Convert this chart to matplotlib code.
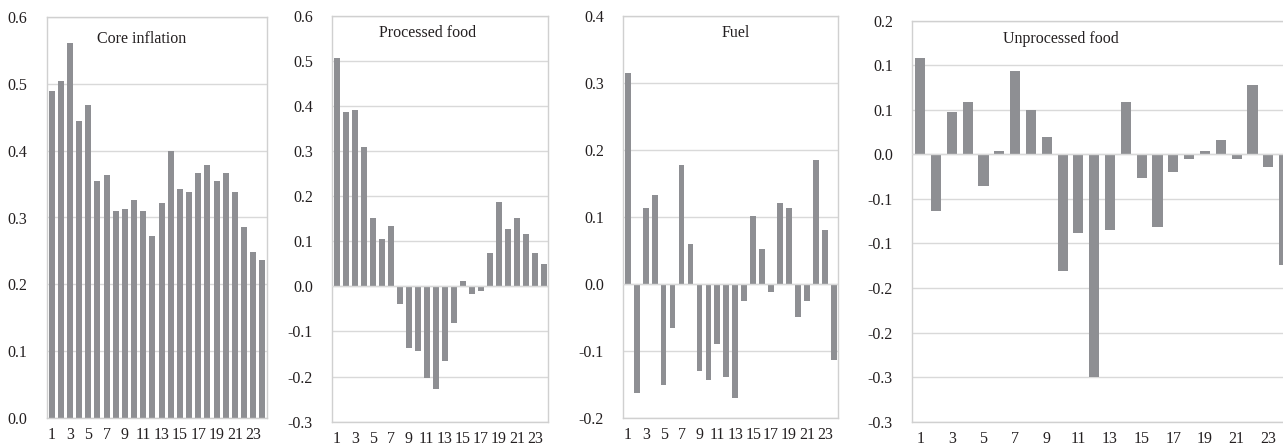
import matplotlib
matplotlib.use("Agg")
import matplotlib.pyplot as plt
import numpy as np

# ---------------- data ----------------
periods = list(range(1, 25))
xtick_labels = ["1", "3", "5", "7", "9", "11", "13", "15", "17", "19", "21", "23"]

core_inflation = [0.489, 0.504, 0.561, 0.444, 0.468, 0.354, 0.363, 0.310, 0.313, 0.326,
                  0.310, 0.273, 0.322, 0.399, 0.342, 0.338, 0.367, 0.379, 0.354, 0.367,
                  0.338, 0.286, 0.249, 0.237]
processed_food = [0.507, 0.386, 0.392, 0.309, 0.152, 0.104, 0.134, -0.040, -0.137, -0.143,
                  -0.203, -0.227, -0.166, -0.082, 0.013, -0.016, -0.010, 0.073, 0.188, 0.127,
                  0.152, 0.115, 0.073, 0.049]
fuel = [0.315, -0.163, 0.113, 0.133, -0.151, -0.066, 0.178, 0.060, -0.130, -0.143,
        -0.089, -0.138, -0.170, -0.025, 0.101, 0.052, -0.012, 0.121, 0.113, -0.049,
        -0.025, 0.185, 0.080, -0.113]
unprocessed_food = [0.108, -0.064, 0.047, 0.059, -0.036, 0.004, 0.093, 0.050, 0.020, -0.131,
                    -0.088, -0.250, -0.085, 0.059, -0.026, -0.082, -0.020, -0.005, 0.004, 0.016,
                    -0.005, 0.078, -0.014, -0.124]

titles = ["Core inflation", "Processed food", "Fuel", "Unprocessed food"]

yticks_core = [0.0, 0.1, 0.2, 0.3, 0.4, 0.5, 0.6]
yticks_proc = [-0.3, -0.2, -0.1, 0.0, 0.1, 0.2, 0.3, 0.4, 0.5, 0.6]
yticks_fuel = [-0.2, -0.1, 0.0, 0.1, 0.2, 0.3, 0.4]
yticks_unproc = [-0.30, -0.25, -0.20, -0.15, -0.10, -0.05, 0.0, 0.05, 0.10, 0.15]
ylabels_unproc = ["-0.3", "-0.3", "-0.2", "-0.2", "-0.1", "-0.1", "0.0", "0.1", "0.1", "0.2"]

# ---------------- style ----------------
W, H = 1283, 448
plt.rcParams['font.family'] = ['Liberation Serif', 'DejaVu Serif']
BAR = "#8e8f93"
GRID = "#d9d9d9"
FRAME = "#d0d0d0"
TXT = "#231f20"
FS = 11.5

fig = plt.figure(figsize=(W / 100, H / 100), dpi=100)

def px_axes(left, top, right, bottom):
    return fig.add_axes([left / W, 1 - bottom / H, (right - left) / W, (bottom - top) / H])

panels = [
    dict(box=(47, 17, 267, 418), data=core_inflation, yt=yticks_core, yl=None,
         ylim=(0.0, 0.6), title=titles[0], tpos=(141.7, 39)),
    dict(box=(332.3, 15.7, 548.3, 421.7), data=processed_food, yt=yticks_proc, yl=None,
         ylim=(-0.3, 0.6), title=titles[1], tpos=(428, 33)),
    dict(box=(623.3, 15.7, 838.3, 418.3), data=fuel, yt=yticks_fuel, yl=None,
         ylim=(-0.2, 0.4), title=titles[2], tpos=(736, 33)),
    dict(box=(912.3, 20.7, 1292.0, 421.7), data=unprocessed_food, yt=yticks_unproc,
         yl=ylabels_unproc, ylim=(-0.30, 0.15), title=titles[3], tpos=(1061, 39)),
]

for p in panels:
    ax = px_axes(*p["box"])
    ax.bar(periods, p["data"], width=0.64, color=BAR, zorder=2)
    ax.set_xlim(0.5, 24.5)
    ax.set_ylim(*p["ylim"])
    ax.set_yticks(p["yt"])
    if p["yl"] is not None:
        ax.set_yticklabels(p["yl"])
    else:
        ax.set_yticklabels([f"{v:.1f}" for v in p["yt"]])
    ax.set_xticks(list(range(1, 25, 2)))
    ax.set_xticklabels(xtick_labels)
    ax.tick_params(axis="both", length=0, labelsize=FS, labelcolor=TXT)
    ax.tick_params(axis="y", pad=14)
    ax.tick_params(axis="x", pad=6.5)
    ax.grid(axis="y", color=GRID, linewidth=1.0, zorder=0)
    ax.set_axisbelow(True)
    for s in ax.spines.values():
        s.set_color(FRAME)
        s.set_linewidth(1.0)
    if p["ylim"][0] < 0:
        ax.axhline(0, color=GRID, linewidth=1.0, zorder=3)
    tx, ty = p["tpos"]
    fig.text(tx / W, 1 - ty / H, p["title"], ha="center", va="center",
             fontsize=FS, color=TXT)

fig.savefig("out.png", dpi=100)
